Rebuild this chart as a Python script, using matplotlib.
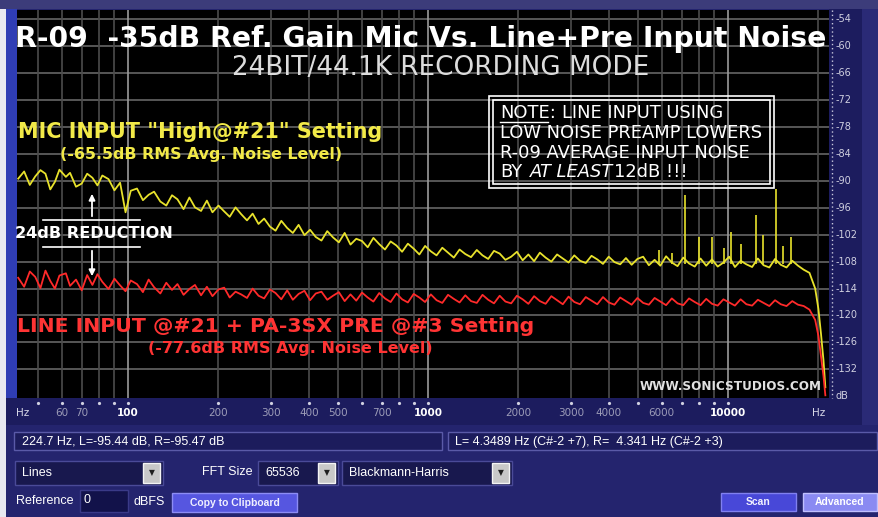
import matplotlib
matplotlib.use("Agg")
import matplotlib.pyplot as plt
import matplotlib.transforms as mtransforms
from matplotlib.patches import Rectangle
from matplotlib.lines import Line2D

W, H = 879, 517

# sample frequencies of the two traces (Hz)
freq_hz = [43, 45, 47, 49, 51, 53, 55, 57, 59, 62, 64, 67, 70, 73, 76, 79, 82, 86, 90, 94,
           98, 102, 107, 112, 117, 122, 128, 134, 140, 146, 153, 160, 167, 175, 183, 191,
           200, 209, 218, 228, 238, 249, 260, 272, 284, 297, 310, 324, 339, 354, 370, 387,
           404, 422, 441, 461, 482, 504, 527, 551, 576, 602, 629, 657, 687, 718, 750, 784,
           819, 856, 895, 935, 977, 1021, 1067, 1115, 1165, 1218, 1273, 1330, 1390, 1453,
           1518, 1586, 1658, 1732, 1810, 1892, 1977, 2066, 2159, 2256, 2358, 2464, 2575,
           2691, 2812, 2939, 3071, 3209, 3354, 3505, 3663, 3828, 4000, 4180, 4368, 4565,
           4770, 4985, 5210, 5444, 5689, 5945, 6213, 6493, 6785, 7090, 7410, 7743, 8092,
           8456, 8837, 9235, 9650, 10085, 10539, 11013, 11509, 12027, 12568, 13134, 13725,
           14342, 14988, 15662, 16367, 17104, 17873, 18678, 19518, 20000, 20400, 20800, 21100]

# MIC input "High@#21" (yellow), dB
mic_db = [-89.5, -87.9, -90.9, -89.0, -87.6, -88.4, -91.9, -90.2, -87.5, -89.1,
          -88.2, -91.3, -90.6, -88.4, -89.3, -91.0, -88.8, -89.6, -92.1, -90.4,
          -97.0, -92.2, -91.7, -94.3, -93.1, -92.4, -94.6, -95.5, -93.2, -94.1,
          -96.3, -93.7, -95.9, -96.7, -94.4, -97.0,
          -95.5, -96.8, -98.0, -95.9, -97.4, -98.8, -97.3, -99.6, -98.4, -100.2,
          -101.1, -98.9, -100.5, -101.6, -99.8, -102.1,
          -100.9, -102.5, -103.3, -101.2, -102.6, -103.7, -101.6, -104.2, -102.9, -103.4,
          -104.8, -102.7, -104.1, -105.3, -103.5, -104.4,
          -105.8, -104.0, -105.1, -106.4, -104.5, -105.7, -106.6, -104.9, -106.0, -107.1,
          -105.3, -106.3, -107.0, -105.4,
          -106.6, -107.4, -105.6, -106.2, -107.6, -106.9, -105.8, -107.7, -106.4, -107.9,
          -106.0, -107.1, -108.0,
          -106.4, -107.3, -108.2, -106.6, -107.8, -108.3, -106.7, -107.5, -108.5, -106.9,
          -108.1, -108.6, -107.2,
          -108.7, -107.4, -106.9, -108.8, -107.6, -108.9, -106.8, -108.2, -109.0, -107.1,
          -108.4, -109.1, -107.3,
          -108.9, -107.5, -109.1, -108.2, -106.9, -109.2, -107.8, -108.6, -109.2, -107.3,
          -108.8, -109.3,
          -107.4, -108.7, -109.3, -107.8, -108.9, -109.8, -110.5, -114.0, -118.5, -124.0,
          -130.0, -136.0]

# LINE input + PA-3SX pre (red), dB
line_db = [-111.6, -113.6, -110.2, -111.4, -113.9, -110.0, -112.3, -114.0, -111.1, -110.6,
           -113.4, -112.0, -114.4, -111.0, -113.2, -110.8, -112.5, -114.1, -111.8, -113.3,
           -114.6, -112.2, -113.0, -114.8, -112.0, -113.7, -115.1, -112.7, -114.3, -113.0,
           -115.4, -114.1, -113.2, -115.5, -113.6, -115.7,
           -114.2, -113.8, -116.0, -114.7, -115.3, -116.1, -114.0, -115.6, -116.2, -114.2,
           -115.0, -116.4, -114.4, -116.5, -115.2, -114.5,
           -116.6, -115.1, -114.7, -116.5, -115.6, -114.8, -116.8, -115.3, -116.7, -114.9,
           -116.0, -116.9, -115.0, -116.2, -117.0, -115.1,
           -116.4, -117.1, -115.2, -116.0, -117.0, -115.3, -116.6, -117.2, -115.4, -116.3,
           -117.1, -115.5, -116.8, -117.2,
           -115.4, -116.5, -117.3, -115.6, -116.9, -117.3, -115.6, -116.4, -117.4, -115.7,
           -116.8, -117.4, -115.7,
           -116.6, -117.5, -115.8, -117.0, -117.5, -115.9, -116.7, -117.5, -115.9, -117.1,
           -117.6, -116.0, -116.8,
           -117.6, -116.1, -117.2, -117.6, -116.1, -116.9, -117.7, -116.2, -117.3, -117.7,
           -116.2, -117.0, -117.7,
           -116.3, -117.4, -117.8, -116.4, -117.1, -117.8, -116.4, -117.5, -117.8, -116.5,
           -117.2, -117.9,
           -116.6, -117.5, -117.9, -116.8, -117.6, -117.9, -118.7, -121.0, -124.5, -129.0,
           -133.5, -137.8]

# narrow peaks on the yellow trace
spike_hz = [5900, 6500, 7160, 8030, 8850, 9700, 10230, 11030, 12380, 13030, 14450, 15300, 16220]
spike_db = [-105.5, -106.0, -93.2, -102.5, -102.5, -105.0, -101.5, -104.0, -97.6, -102.0,
            -91.7, -104.5, -102.5]
spike_base = -108.5

grid_db = [-54, -60, -66, -72, -78, -84, -90, -96, -102, -108, -114, -120, -126, -132]
ylabels = ["-54", "-60", "-66", "-72", "-78", "-84", "-90", "-96", "-102", "-108",
           "-114", "-120", "-126", "-132"]
vgrid_hz = [50, 60, 70, 80, 90, 100, 200, 300, 400, 500, 600, 700, 800, 900, 1000,
            2000, 3000, 4000, 5000, 6000, 7000, 8000, 9000, 10000, 20000]
xtick_hz = [60, 70, 100, 200, 300, 400, 500, 700, 1000, 2000, 3000, 4000, 6000, 10000]
xtick_lbl = ["60", "70", "100", "200", "300", "400", "500", "700", "1000", "2000",
             "3000", "4000", "6000", "10000"]
dot_hz = [50, 80, 90, 600, 800, 900, 5000, 7000, 8000, 9000]

BG = "#24246e"
fig = plt.figure(figsize=(W / 100, H / 100), dpi=100)
fig.patch.set_facecolor(BG)


def rect(x0, y0, x1, y1, fc, ec="none", lw=1.0, z=-1):
    fig.add_artist(Rectangle((x0 / W, 1 - y1 / H), (x1 - x0) / W, (y1 - y0) / H,
                             transform=fig.transFigure, fc=fc, ec=ec, lw=lw, zorder=z))


fit = []


def label(x, y, s, w=None, ha="left", **kw):
    t = fig.text(x / W, 1 - y / H, s, ha=ha, va="center", **kw)
    if w:
        fit.append((t, w))
    return t


# window frame
rect(0, 0, W, 9, "#3c3c7a")
rect(0, 9, 6, H, "#e8e8f0")
rect(6, 9, 17, 398, "#2f3db4")
rect(829, 9, 862, 398, "#1c1c5e")
rect(862, 9, W, 425, "#2a2a76")
rect(6, 398, 862, 425, "#1c1c5e")

ax = fig.add_axes([17 / W, 1 - 398 / H, 812 / W, 388 / H])
ax.set_facecolor("black")
ax.set_xscale("log")
ax.set_xlim(42.6, 21700)
ax.set_ylim(-138.4, -51.9)
for s in ax.spines.values():
    s.set_visible(False)
ax.set_xticks([])
ax.set_xticks([], minor=True)
ax.set_yticks([])

for v in grid_db:
    ax.axhline(v, color="#5e5e5e", lw=1.3, zorder=1)
for f in vgrid_hz:
    c = "#9a9a9a" if f in (100, 1000, 10000) else "#4c4c4c"
    ax.axvline(f, color=c, lw=1.2, zorder=1)

ax.plot(freq_hz, mic_db, color="#e8e22c", lw=1.3, zorder=3)
ax.vlines(spike_hz, spike_base, spike_db, color="#e8e22c", lw=1.2, zorder=3)
ax.plot(freq_hz, line_db, color="#ff2a2a", lw=1.3, zorder=3)

# bottom frequency scale
bt = mtransforms.blended_transform_factory(ax.transData, ax.transAxes)
for f, s in zip(xtick_hz, xtick_lbl):
    big = f in (100, 1000, 10000)
    ax.text(f, -0.039, s, transform=bt, ha="center", va="center", clip_on=False,
            fontsize=7.5, color="white" if big else "#9c9cb8",
            fontweight="bold" if big else "normal")
    ax.plot([f], [-0.012], transform=bt, marker="o", ms=1.3, color="#d0d0e0", clip_on=False)
for f in dot_hz:
    ax.plot([f], [-0.012], transform=bt, marker="o", ms=1.3, color="#d0d0e0", clip_on=False)
ax.text(0.007, -0.039, "Hz", transform=ax.transAxes, ha="center", va="center",
        fontsize=7.5, color="#d8d8e8", clip_on=False)
ax.text(20000, -0.039, "Hz", transform=bt, ha="center", va="center",
        fontsize=7.5, color="#d8d8e8", clip_on=False)

# right dB scale
rt = mtransforms.blended_transform_factory(ax.transAxes, ax.transData)
for v, s in zip(grid_db, ylabels):
    ax.text(1.0086, v, s, transform=rt, ha="left", va="center", fontsize=7,
            color="#d0d0e0", clip_on=False)
ax.text(1.0086, -138.0, "dB", transform=rt, ha="left", va="center", fontsize=7,
        color="#d0d0e0", clip_on=False)
fig.add_artist(Line2D([832 / W] * 2, [1 - 10 / H, 1 - 398 / H], transform=fig.transFigure,
                      color="#c8c8dc", lw=1, ls=(0, (1, 2))))

# annotations on the screen shot
YEL = "#f2ea48"
RED = "#ff3434"
label(15, 39, "R-09  -35dB Ref. Gain Mic Vs. Line+Pre Input Noise", 811, color="white",
      fontweight="bold")
label(232, 68, "24BIT/44.1K RECORDING MODE", 416, color="#dcdcdc")
label(18, 132, "MIC INPUT \"High@#21\" Setting", 365, color=YEL, fontweight="bold")
label(60, 155, "(-65.5dB RMS Avg. Noise Level)", 283, color=YEL, fontweight="bold")
label(15, 234, "24dB REDUCTION", 158, color="white", fontweight="bold")
label(17, 326, "LINE INPUT @#21 + PA-3SX PRE @#3 Setting", 518, color=RED,
      fontweight="bold")
label(148, 348, "(-77.6dB RMS Avg. Noise Level)", 284, color=RED, fontweight="bold")
label(640, 386, "WWW.SONICSTUDIOS.COM", 182, color="#e0e0e0", fontweight="bold")

for yy in (220, 247):
    fig.add_artist(Line2D([43 / W, 140 / W], [1 - yy / H] * 2, transform=fig.transFigure,
                          color="white", lw=1.2))
ax.annotate("", xy=(92 / W, 1 - 191 / H), xytext=(92 / W, 1 - 219 / H),
            xycoords="figure fraction", textcoords="figure fraction",
            arrowprops=dict(arrowstyle="-|>", color="white", lw=1.3, mutation_scale=9))
ax.annotate("", xy=(92 / W, 1 - 279 / H), xytext=(92 / W, 1 - 248 / H),
            xycoords="figure fraction", textcoords="figure fraction",
            arrowprops=dict(arrowstyle="-|>", color="white", lw=1.3, mutation_scale=9))

# NOTE box
rect(489, 96, 774, 188, "none", ec="white", lw=1.2, z=4)
rect(493, 100, 770, 184, "none", ec="white", lw=1.2, z=4)
label(500, 113, "NOTE:", color="white")
label(562, 113, "LINE INPUT USING", color="white")
label(500, 133, "LOW NOISE PREAMP LOWERS", 262, color="white")
label(500, 153, "R-09 AVERAGE INPUT NOISE", color="white")
label(500, 172, "BY", color="white")
label(530, 172, "AT LEAST", color="white", style="italic")
label(614, 172, "12dB !!!", color="white")
fig.add_artist(Line2D([500 / W, 548 / W], [1 - 122 / H] * 2, transform=fig.transFigure,
                      color="white", lw=1))

# control panel
UI = "Liberation Sans"
rect(14, 432, 442, 450, "#1c1c5c", ec="#5a5aa8")
rect(448, 432, 877, 450, "#1c1c5c", ec="#5a5aa8")
label(22, 442, "224.7 Hz, L=-95.44 dB, R=-95.47 dB", fontsize=9, color="white", family=UI)
label(455, 442, "L= 4.3489 Hz (C#-2 +7), R=  4.341 Hz (C#-2 +3)", fontsize=9,
      color="white", family=UI)

for x0, x1, txt in [(15, 163, "Lines"), (258, 338, "65536"), (342, 512, "Blackmann-Harris")]:
    rect(x0, 461, x1, 485, "#18184e", ec="#4a4a98")
    label(x0 + 7, 473, txt, fontsize=9, color="white", family=UI)
    rect(x1 - 20, 463, x1 - 3, 483, "#c8c8c8", ec="#f4f4f4")
    label(x1 - 11.5, 473, "\u25bc", ha="center", fontsize=5.5, color="#202020")
label(202, 472, "FFT Size", fontsize=9, color="white", family=UI)

label(16, 501, "Reference", fontsize=9, color="white", family=UI)
rect(80, 490, 128, 512, "#12124a", ec="#3a3a88")
label(84, 500, "0", fontsize=9, color="white", family=UI)
label(134, 502, "dBFS", fontsize=9, color="white", family=UI)
rect(172, 493, 297, 512, "#5656e0", ec="#8c8cf4")
label(234.5, 503, "Copy to Clipboard", ha="center", fontsize=7.5, color="#f0f0ff",
      family=UI, fontweight="bold")
rect(721, 493, 796, 511, "#4848d8", ec="#8080f0")
label(758.5, 502, "Scan", ha="center", fontsize=7.5, color="#f0f0ff", family=UI,
      fontweight="bold")
rect(803, 493, 877, 511, "#8a8af2", ec="#c0c0ff")
label(840, 502, "Advanced", ha="center", fontsize=7.5, color="white", family=UI,
      fontweight="bold")

# scale the big captions to the widths they take in the screen shot
fig.canvas.draw()
r = fig.canvas.get_renderer()
for t, w in fit:
    t.set_fontsize(t.get_fontsize() * w / t.get_window_extent(r).width)
size = [t for t, w in fit if t.get_text().startswith("LOW NOISE")][0].get_fontsize()
for t in fig.texts:
    if t.get_position()[0] >= 499 / W and 0.5 < t.get_position()[1] < 1 - 100 / H:
        t.set_fontsize(size)

fig.savefig("out.png", dpi=100, facecolor=fig.get_facecolor())
